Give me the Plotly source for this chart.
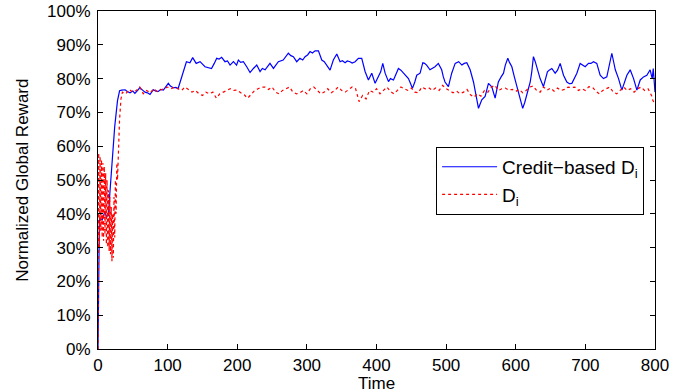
import plotly.graph_objects as go

# Blue series: Credit-based D_i
blue_t = [0, 1, 2, 4, 6, 8, 10, 12, 15, 17, 20, 24, 28, 31, 34, 39, 42, 46, 50, 53, 57, 60, 64, 67.5, 71, 74.7, 77, 79.5, 83, 86.7, 90, 93.9, 97, 101, 104, 108, 112, 115, 118, 122.6, 127, 132, 136, 141, 146.6, 153.7, 158, 163, 167, 170.5, 174, 177.6, 182.4, 186, 189.7, 194.5, 199, 201.6, 205, 208.8, 213.6, 218.4, 223.2, 228, 232.8, 236, 240, 243, 247, 252, 259, 266, 270, 273.4, 277, 280.6, 285.4, 290, 294, 297.4, 301, 304.6, 308, 311.8, 316.6, 321.4, 325, 328.5, 333.3, 338, 343, 347.7, 351, 354.9, 358, 362, 365, 369.3, 374, 378.8, 383.6, 388.4, 393.2, 398, 402.8, 406, 409, 412.4, 417.2, 420, 424.4, 428, 431.5, 435, 438.7, 442, 445.9, 449, 451.6, 455, 457.8, 462.6, 466.5, 469, 472, 476.8, 480, 484, 488.8, 493.6, 496, 498.4, 503.3, 508, 513, 518, 522.6, 526, 529.7, 534.5, 539.3, 543, 546.5, 551.2, 556, 560.8, 565.6, 570.4, 575, 579, 582.4, 585, 588.6, 591, 594.4, 598, 601.6, 606, 610, 613, 616, 620.8, 623, 625.4, 628, 630.2, 635, 639.8, 643, 645.5, 648, 651.8, 656.6, 660, 663.8, 666, 668.6, 673.4, 677, 680.6, 684, 687.8, 692.5, 696, 699.7, 704.5, 708, 711.6, 716.4, 721.2, 726, 730.8, 734, 738, 743, 747.6, 752.4, 756, 759.6, 764.4, 769.2, 774, 778.8, 783.5, 788.3, 793, 796, 797.5, 798.5, 800]
blue_v = [0, 20, 38, 38.5, 38.2, 39.5, 40.6, 39.2, 39.5, 46, 54, 65.8, 73.5, 76.4, 76.6, 76.7, 76.2, 75.8, 76.3, 75.6, 76.5, 77.3, 76.6, 76, 75.8, 75.3, 76, 76.7, 76.3, 76.2, 76.8, 76.6, 77.5, 78.6, 77.8, 77.3, 77.4, 77, 79, 82.4, 85, 84.7, 86.2, 84.5, 85, 83.5, 83.2, 83, 84.5, 86, 85.8, 86.3, 85, 85.2, 84, 85, 84, 85.5, 84.8, 85, 83.5, 81.8, 83, 84, 82.1, 83, 82.6, 83.5, 84.5, 83, 85, 85.5, 86.5, 87.5, 86.8, 86.5, 85, 86, 85.5, 86.5, 87, 88, 87.6, 88.2, 88.2, 85.5, 85, 84, 82.5, 85.5, 87.3, 85, 85.3, 84.7, 85.2, 85, 84.6, 85, 86, 86, 82.1, 79.6, 81.6, 78.6, 80.5, 82, 84.5, 81.6, 79.1, 80, 79.6, 81.5, 83, 82.5, 81.6, 80.8, 80, 78.5, 77.1, 79, 81, 81.6, 84.7, 84.5, 84, 82.6, 83, 83.5, 84.5, 82.6, 80.5, 79, 77.6, 81.6, 84.5, 85, 84, 84.5, 84.7, 82.6, 79, 75.1, 71.2, 73.7, 74.7, 78.6, 77.6, 74.2, 79, 80.5, 81.6, 84, 86, 84.8, 83.5, 80.5, 77.6, 74.5, 71.2, 73, 75.1, 79, 82, 86.5, 85, 83.5, 80, 77.6, 80, 82, 82.5, 83, 81.6, 82.5, 84.5, 83, 81, 79, 78.5, 78.6, 80, 81.6, 84.5, 84, 83.5, 84.5, 84.5, 85, 84.5, 81, 80, 80.5, 84, 87.5, 82.6, 80, 76.6, 79, 81, 82.6, 80, 76.6, 79.6, 80.5, 81, 82.6, 80, 83, 79, 76]

# Red series: D_i
red_t = [0, 1, 2, 3, 4, 5, 6, 7, 8, 9, 10, 11, 12, 13, 14, 15, 16, 17, 18, 19, 20, 21, 22, 23, 24, 25, 26, 27, 28, 29, 30, 31, 32, 33, 35, 40, 45, 50, 55, 60, 65, 70, 75, 80, 85, 90, 95, 100, 105, 110, 115, 120, 125, 130, 135, 140, 145, 150, 155, 160, 165, 170, 175, 180, 185, 190, 195, 200, 205, 210, 215, 220, 225, 230, 235, 240, 245, 250, 255, 260, 265, 270, 275, 280, 285, 290, 295, 300, 305, 310, 315, 320, 325, 330, 335, 340, 345, 350, 355, 360, 365, 370, 375, 380, 385, 390, 395, 400, 405, 410, 415, 420, 425, 430, 435, 440, 445, 450, 455, 460, 465, 470, 475, 480, 485, 490, 495, 500, 505, 510, 515, 520, 525, 530, 535, 540, 545, 550, 555, 560, 565, 570, 575, 580, 585, 590, 595, 600, 605, 610, 615, 620, 625, 630, 635, 640, 645, 650, 655, 660, 665, 670, 675, 680, 685, 690, 695, 700, 705, 710, 715, 720, 725, 730, 735, 740, 745, 750, 755, 760, 765, 770, 775, 780, 785, 790, 795, 797, 800]
red_v = [0, 58, 30, 57, 35, 56, 33, 55, 32, 54, 34, 52, 31, 50, 30, 47, 29, 45, 28, 42, 26, 40, 27, 45, 33, 50, 40, 55, 50, 60, 62, 68, 72, 74, 76, 75.5, 76.8, 76, 76.5, 77.5, 75.5, 76.5, 75.8, 77, 76.2, 76.6, 77, 77.5, 77, 77.5, 77, 76.5, 77.5, 76.8, 76, 76.5, 75.5, 75, 76, 75.5, 76, 74.2, 75.5, 76, 76.5, 77, 76.5, 76.6, 75.8, 75.2, 74.2, 75.5, 76.5, 77, 77.5, 77.5, 76.8, 77.5, 76, 75.5, 76.5, 77, 77.5, 76, 75.5, 75.8, 76.5, 75.5, 77, 77.5, 76.5, 75.5, 76, 77, 75.8, 76.5, 77.5, 76.5, 76, 76.8, 77.5, 77, 73.2, 75, 74, 76.5, 76, 77, 75.5, 76.5, 77.5, 76.2, 75.5, 76.5, 77.5, 77, 76.5, 77.2, 76, 75.8, 77.5, 77, 77.3, 76.5, 77.2, 76.5, 78, 77, 76.5, 75.8, 76.3, 75.5, 76, 76.8, 75.2, 74.5, 75.5, 74.8, 76.5, 76, 77.5, 78, 76.5, 77, 77.2, 76.6, 76.8, 76.2, 76.8, 75.8, 76.5, 77.5, 77.8, 76.5, 76, 77.5, 76.6, 77.2, 76.3, 77.2, 76.5, 76.8, 77.5, 77.3, 77.5, 76.5, 77, 76.5, 77.6, 77.5, 76.3, 75.5, 76.5, 77, 77.5, 76, 75.5, 76.5, 77.5, 76.5, 77, 76, 77, 77.5, 76.5, 77, 75, 73.5, 72.5]

x_ticks = [0, 100, 200, 300, 400, 500, 600, 700, 800]
y_ticks = [0, 10, 20, 30, 40, 50, 60, 70, 80, 90, 100]
y_tick_labels = [f"{v}%" for v in y_ticks]

font_family = "Liberation Sans, Arial, Helvetica, sans-serif"

fig = go.Figure()
fig.add_trace(go.Scatter(x=blue_t, y=blue_v, mode="lines", name="Credit\u2212based D<sub>i</sub>",
                         line=dict(color="#0000ff", width=1.2)))
fig.add_trace(go.Scatter(x=red_t, y=red_v, mode="lines", name="D<sub>i</sub>",
                         line=dict(color="#ff0000", width=1.2, dash="dot")))

axis_common = dict(showline=True, linecolor="black", linewidth=1, mirror="ticks",
                   ticks="inside", ticklen=5, tickcolor="black", showgrid=False, zeroline=False,
                   automargin=False, ticklabeloverflow="allow",
                   tickfont=dict(size=17, color="black", family=font_family))

fig.update_xaxes(range=[0, 800], tickvals=x_ticks, ticklabelstandoff=1, **axis_common)
fig.update_yaxes(range=[0, 100], tickvals=y_ticks, ticktext=y_tick_labels,
                 ticklabelstandoff=3, **axis_common)

fig.update_layout(
    width=699, height=392,
    margin=dict(l=98, r=44, t=11, b=43),
    paper_bgcolor="white", plot_bgcolor="white",
    font=dict(family=font_family, color="black"),
    legend=dict(x=0.607, y=0.598, xanchor="left", yanchor="top",
                bordercolor="black", borderwidth=1, bgcolor="white", itemwidth=55,
                font=dict(size=19, color="black", family=font_family)),
    annotations=[
        dict(text="Time", xref="paper", yref="paper", x=0.5, y=-0.103,
             xanchor="center", yanchor="middle", showarrow=False,
             font=dict(size=17, color="black", family=font_family)),
        dict(text="Normalized Global Reward", xref="paper", yref="paper", x=-0.137, y=0.5,
             xanchor="center", yanchor="middle", textangle=-90, showarrow=False,
             font=dict(size=17, color="black", family=font_family)),
    ],
)

fig.write_html("out.html", config={"displayModeBar": False},
               post_script="document.body.style.margin='0px';")
